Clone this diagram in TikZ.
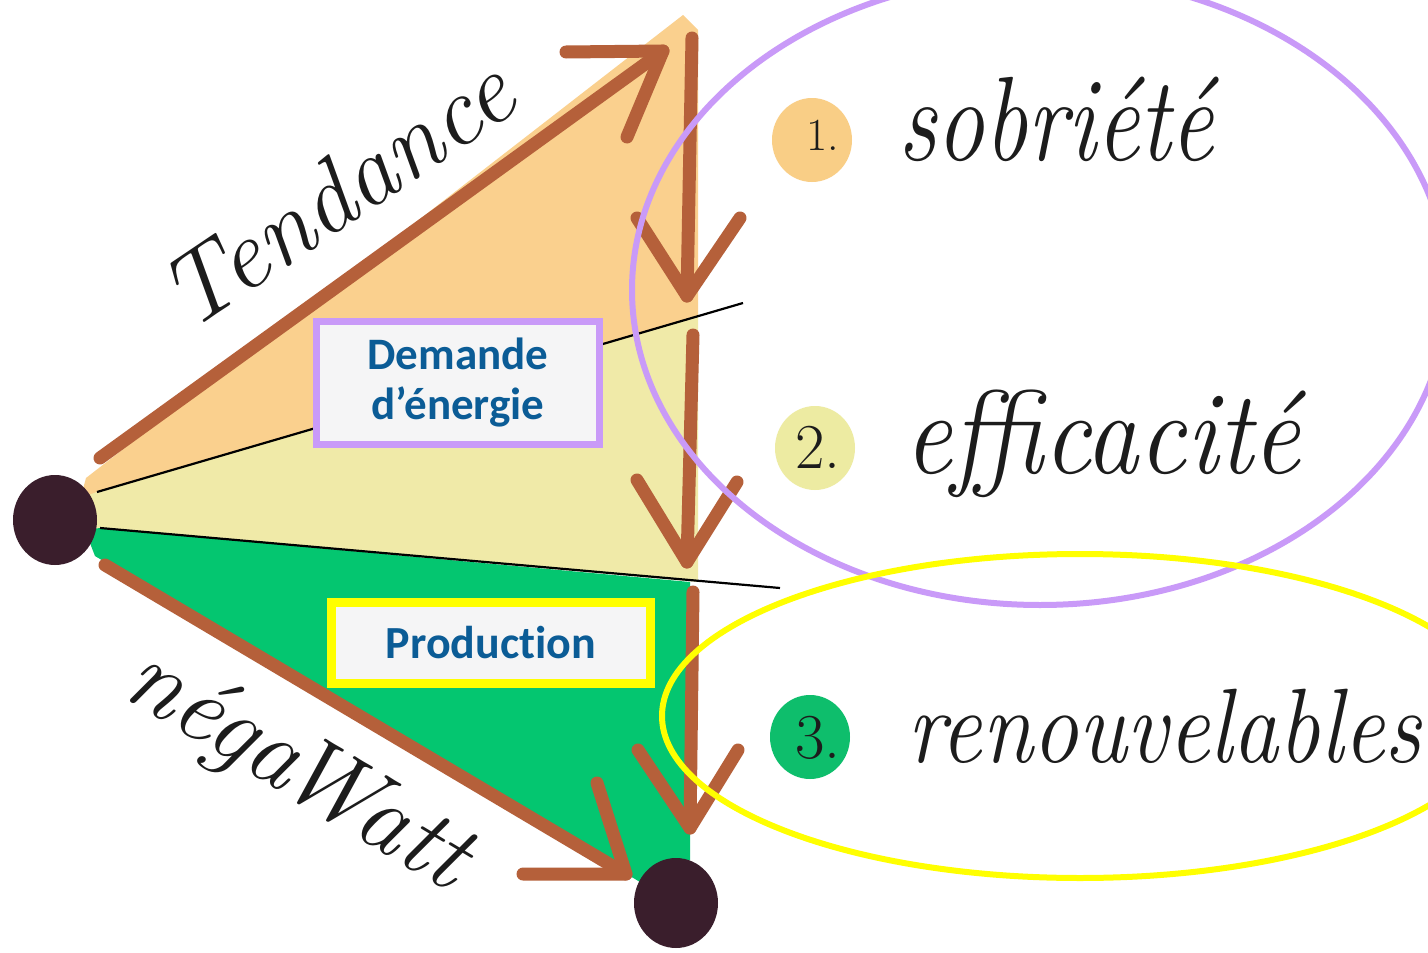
\documentclass[tikz,border=0pt]{standalone}
\usepackage{fontspec}
\newfontfamily\boxfont{Carlito}[Ligatures={NoCommon,NoDiscretionary,NoRare}]
\usetikzlibrary{shapes.geometric}
\definecolor{brownc}{HTML}{B5603A}
\definecolor{orangef}{HTML}{FAD08E}
\definecolor{palef}{HTML}{F0EAA8}
\definecolor{greenf}{HTML}{04C670}
\definecolor{dotc}{HTML}{3A1E2C}
\definecolor{purplec}{HTML}{C99AF8}
\definecolor{yellowc}{HTML}{FFFF00}
\definecolor{bluet}{HTML}{0B5C96}
\definecolor{boxf}{HTML}{F5F5F6}
\definecolor{disca}{HTML}{F9CE86}
\definecolor{discb}{HTML}{EDEBA2}
\definecolor{discc}{HTML}{0EBE6C}
\definecolor{inkc}{HTML}{1C1C1C}
\begin{document}
\begin{tikzpicture}[x=1pt,y=-1pt,
  brownline/.style={draw=brownc,line width=13pt,line cap=round,line join=round},
  blackline/.style={draw=black,line width=2.2pt},
  dotnode/.style={ellipse,fill=dotc,inner sep=0pt,minimum width=84pt,minimum height=90pt},
  labelbox/.style={rectangle,fill=boxf,text=bluet,align=center,inner sep=0pt},
  hand/.style={text=inkc,inner sep=0pt},
  disc/.style={ellipse,inner sep=0pt,minimum width=80pt,minimum height=84pt}]
\useasboundingbox (0,0) rectangle (1428,953);
\fill[white] (0,0) rectangle (1428,953);

% coloured areas
\fill[orangef] (86,478) -- (683,15) -- (698,30) -- (698,316) -- (97,492) -- (80,500) -- cycle;
\fill[palef] (80,498) -- (97,492) -- (698,316) -- (698,582) -- (100,528) -- (85,540) -- cycle;
\fill[greenf] (85,530) -- (100,528) -- (690,582) -- (690,860) -- (645,885) -- (95,556) -- cycle;

% thin black lines
\coordinate (la) at (97,492);
\coordinate (lb) at (743,303);
\coordinate (lc) at (100,528);
\coordinate (ld) at (780,588);
\draw[blackline] (la) -- (lb);
\draw[blackline] (lc) -- (ld);

% brown arrows
\coordinate (tS) at (100,458);
\coordinate (tE) at (663,51);
\draw[brownline] (tS) -- (tE);
\draw[brownline] (566,52) -- (tE) -- (627,137);

\coordinate (v1a) at (692,38);
\coordinate (v1b) at (687,296);
\draw[brownline] (v1a) -- (v1b);
\draw[brownline] (637,218) -- (v1b) -- (740,218);

\coordinate (v2a) at (693,335);
\coordinate (v2b) at (687,562);
\draw[brownline] (v2a) -- (v2b);
\draw[brownline] (637,480) -- (v2b) -- (737,482);

\coordinate (v3a) at (693,592);
\coordinate (v3b) at (690,828);
\draw[brownline] (v3a) -- (v3b);
\draw[brownline] (638,750) -- (v3b) -- (738,750);

\coordinate (nS) at (105,565);
\coordinate (nE) at (626,874);
\draw[brownline] (nS) -- (nE);
\draw[brownline] (523,874) -- (nE) -- (597,783);

% boxes
\node[labelbox,draw=purplec,line width=7pt,minimum width=283pt,minimum height=123pt,
  font={\boxfont\bfseries\fontsize{45}{50}\selectfont}]
  (dem) at (458,383) {Demande\\d’énergie};
\node[labelbox,draw=yellowc,line width=9pt,minimum width=319pt,minimum height=81pt,
  font={\boxfont\bfseries\fontsize{46}{50}\selectfont}]
  (prod) at (491,643) {Production};

% dots
\node[dotnode] (L) at (55,520) {};
\node[dotnode] (B) at (676,903) {};

% ellipses
\draw[purplec,line width=6pt] (1040,290) ellipse [x radius=408, y radius=315];
\draw[yellowc,line width=6pt] (1080,716) ellipse [x radius=418, y radius=162];

% numbered discs
\node[disc,fill=disca] (d1) at (812,140) {};
\node[disc,fill=discb] (d2) at (815,448) {};
\node[disc,fill=discc] (d3) at (810,737) {};

% hand-written texts
\node[hand,anchor=base west] (n1) at (806,150) {\fontsize{46}{50}\selectfont 1.};
\node[hand,anchor=base west] (w1) at (898,160) {\scalebox{1}[1.25]{\fontsize{96}{100}\selectfont\itshape sobriété}};
\node[hand,anchor=base west] (n2) at (795,468) {\fontsize{64}{68}\selectfont 2.};
\node[hand,anchor=base west] (w2) at (904,473) {\scalebox{1}[1.12]{\fontsize{106}{110}\selectfont\itshape ef{}ficacité}};
\node[hand,anchor=base west] (n3) at (795,758) {\fontsize{64}{68}\selectfont 3.};
\node[hand,anchor=base west] (w3) at (907,762) {\scalebox{1}[1.15]{\fontsize{92}{96}\selectfont\itshape renouvelables}};
\node[hand,anchor=base,rotate=34] (tend) at (355,221) {\fontsize{100}{104}\selectfont\itshape Tendance};
\node[hand,anchor=base,rotate=-31] (nega) at (284,793) {\fontsize{100}{104}\selectfont\itshape néga\kern-12pt Watt};
\end{tikzpicture}
\end{document}
